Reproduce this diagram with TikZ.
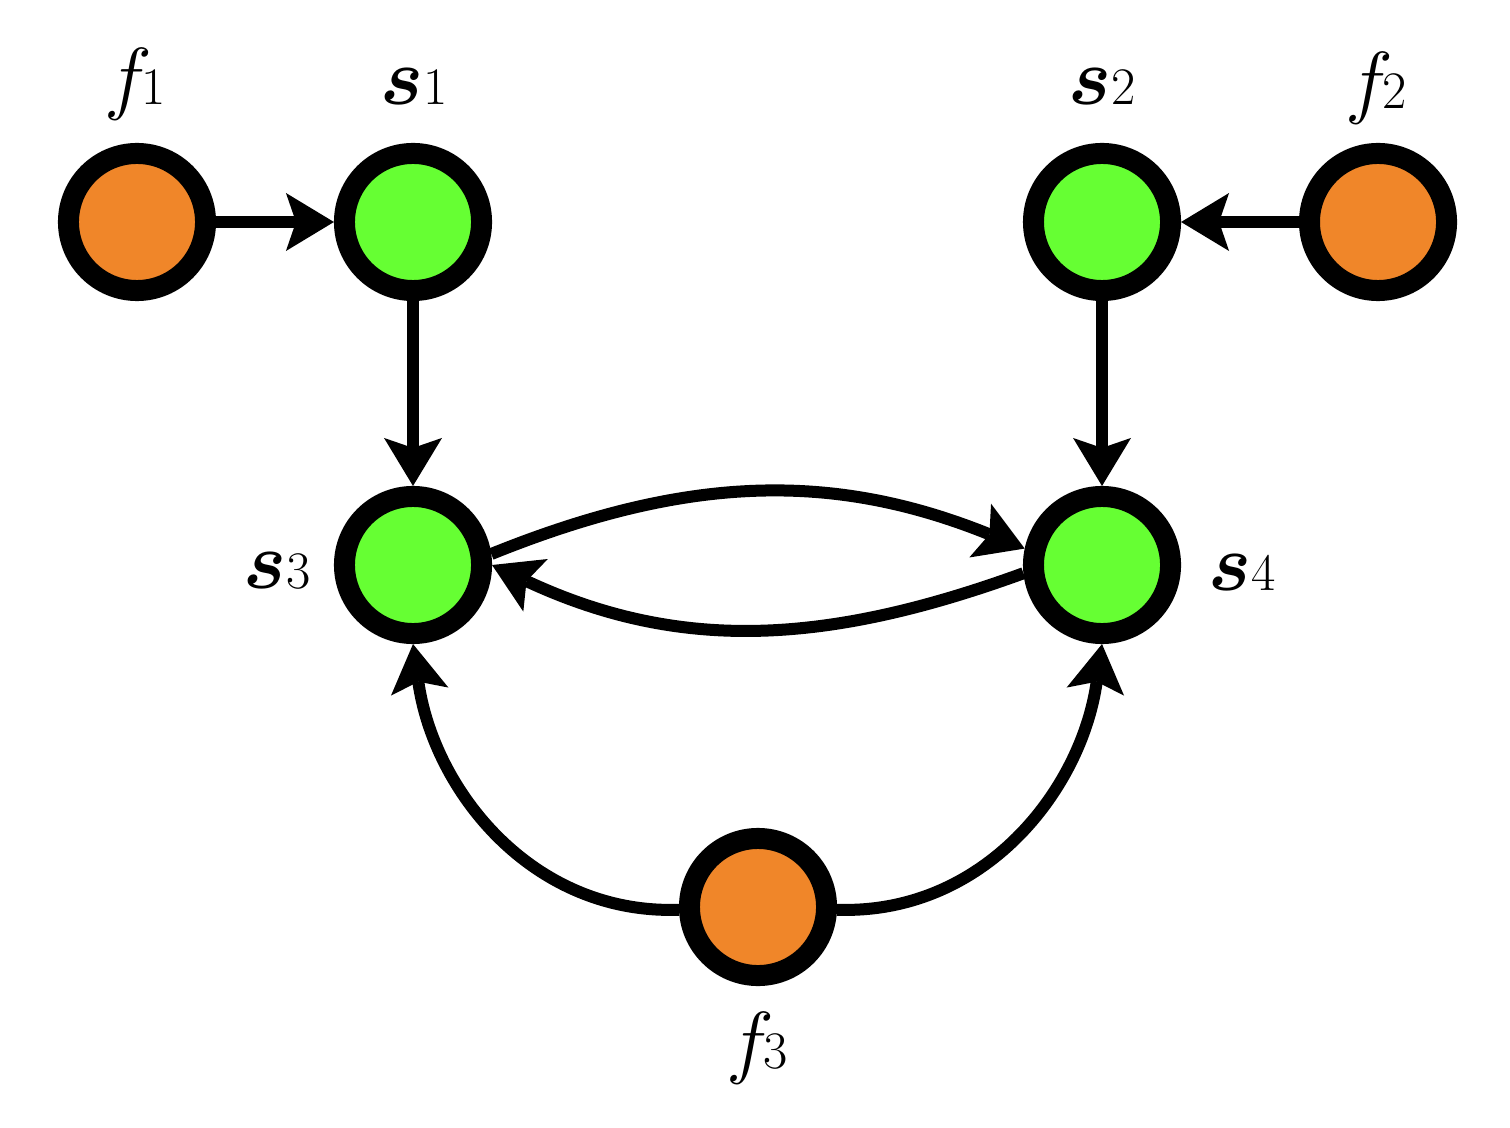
\RequirePackage{fix-cm}
\documentclass[tikz,border=0pt]{standalone}
\usepackage{bm}
\usetikzlibrary{arrows.meta}
\definecolor{forange}{RGB}{240,134,41}
\definecolor{sgreen}{RGB}{102,255,51}
\newcommand{\mylbl}[3][0pt]{$#2$\kern#1\fontsize{15pt}{15pt}\selectfont #3}
\begin{document}
\begin{tikzpicture}[x=0.01cm,y=-0.01cm,
  agent/.style={circle,draw=black,line width=0.21cm,minimum size=1.37cm,inner sep=0pt},
  fnode/.style={agent,fill=forange},
  snode/.style={agent,fill=sgreen},
  lbl/.style={anchor=base,inner sep=0pt,font=\fontsize{23pt}{23pt}\selectfont},
  conn/.style={line width=0.12cm,-{Stealth[length=0.48cm,width=0.58cm,inset=0.1cm,line width=0pt]}}]
\useasboundingbox (0,0) rectangle (1510,1128);
\node[fnode] (f1) at (137,222) {};
\node[snode] (s1) at (413,222) {};
\node[snode] (s2) at (1102,222) {};
\node[fnode] (f2) at (1378,222) {};
\node[snode] (s3) at (413,565) {};
\node[snode] (s4) at (1102,565) {};
\node[fnode] (f3) at (758,907) {};
\node[lbl] (lf1) at (135,105) {\mylbl[-3pt]{f}{1}};
\node[lbl] (ls1) at (414,105) {\mylbl{\bm{s}}{1}};
\node[lbl] (ls2) at (1102,105) {\mylbl{\bm{s}}{2}};
\node[lbl] (lf2) at (1376,109) {\mylbl[-3pt]{f}{2}};
\node[lbl] (ls3) at (277,588) {\mylbl{\bm{s}}{3}};
\node[lbl] (ls4) at (1242,590) {\mylbl{\bm{s}}{4}};
\node[lbl] (lf3) at (757,1068) {\mylbl[-3pt]{f}{3}};
\draw[conn] (f1) -- (s1);
\draw[conn] (f2) -- (s2);
\draw[conn] (s1) -- (s3);
\draw[conn] (s2) -- (s4);
\draw[conn] (s3.8) to[out=22,in=158] (s4.168);
\draw[conn] (s4.186) to[out=200,in=-25] (s3.0);
\draw[conn] (f3.182) to[out=182,in=-82] (s3.-90);
\draw[conn] (f3.-2) to[out=-2,in=-98] (s4.-90);
\end{tikzpicture}
\end{document}
